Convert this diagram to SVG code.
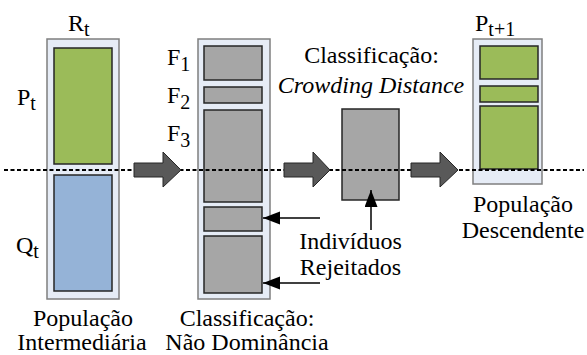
<svg xmlns="http://www.w3.org/2000/svg" width="587" height="355" viewBox="0 0 587 355">
  <style>
    text { font-family: "Liberation Serif", Tinos, "Times New Roman", Times, "Nimbus Roman", "Nimbus Roman No9 L", "Noto Serif", "DejaVu Serif", FreeSerif, serif; font-size: 24px; fill: #000; }
    .sub { font-size: 20px; }
    .it { font-style: italic; }
    .outer { fill: #E6ECF6; stroke: #7F7F7F; stroke-width: 1.5; }
    .inner { stroke: #262626; stroke-width: 1.5; }
    .green { fill: #9BBB59; }
    .blue { fill: #95B3D7; }
    .gray { fill: #A6A6A6; }
    .flow { fill: #595959; stroke: #262626; stroke-width: 1; }
    .dash { stroke: #000; stroke-width: 2; stroke-dasharray: 4 2.5; fill: none; }
    .pointer { stroke: #000; stroke-width: 1.5; fill: none; }
  </style>
  <defs>
    <marker id="head" markerUnits="userSpaceOnUse" markerWidth="18" markerHeight="14" refX="17" refY="6.5" orient="auto">
      <path d="M0,0 L17,6.5 L0,13 Z" fill="#000"/>
    </marker>
  </defs>

  <rect width="587" height="355" fill="#fff"/>

  <!-- R_t : intermediate population -->
  <g id="rt">
    <rect class="outer" x="47" y="39" width="72" height="260"/>
    <rect class="inner green" x="54" y="48" width="58" height="116"/>
    <rect class="inner blue" x="54" y="175" width="58" height="116"/>
    <text x="68" y="31">R<tspan class="sub" dy="5">t</tspan></text>
    <text x="17" y="105">P<tspan class="sub" dy="5">t</tspan></text>
    <text x="16" y="253">Q<tspan class="sub" dy="5">t</tspan></text>
    <text x="83" y="326" text-anchor="middle">População</text>
    <text x="82" y="350" text-anchor="middle">Intermediária</text>
  </g>

  <!-- Non-dominance fronts -->
  <g id="fronts">
    <rect class="outer" x="198" y="39" width="72" height="260"/>
    <rect class="inner gray" x="204" y="46" width="58" height="34"/>
    <rect class="inner gray" x="204" y="87" width="58" height="16"/>
    <rect class="inner gray" x="204" y="110" width="58" height="92"/>
    <rect class="inner gray" x="204" y="207" width="58" height="24"/>
    <rect class="inner gray" x="204" y="236" width="58" height="57"/>
    <text x="167" y="65">F<tspan class="sub" dy="6">1</tspan></text>
    <text x="167" y="103">F<tspan class="sub" dy="6">2</tspan></text>
    <text x="167" y="141">F<tspan class="sub" dy="6">3</tspan></text>
    <text x="247" y="326" text-anchor="middle">Classificação:</text>
    <text x="247" y="350" text-anchor="middle">Não Dominância</text>
  </g>

  <!-- Crowding distance sorting -->
  <g id="crowding">
    <rect class="inner gray" x="342" y="109" width="57" height="91"/>
    <text x="371.5" y="63" text-anchor="middle">Classificação:</text>
    <text class="it" x="371" y="93" text-anchor="middle">Crowding Distance</text>
  </g>

  <!-- Rejected individuals label -->
  <g id="rejected">
    <text x="350.5" y="249" text-anchor="middle">Indivíduos</text>
    <text x="350.5" y="275" text-anchor="middle">Rejeitados</text>
  </g>

  <!-- P_{t+1} : offspring population -->
  <g id="ptnext">
    <rect class="outer" x="473" y="39" width="69" height="145"/>
    <rect class="inner green" x="480" y="46" width="58" height="33"/>
    <rect class="inner green" x="480" y="86" width="58" height="16"/>
    <rect class="inner green" x="480" y="106" width="58" height="63"/>
    <text x="475" y="31">P<tspan class="sub" dy="5">t+1</tspan></text>
    <text x="523" y="212" text-anchor="middle">População</text>
    <text x="523" y="238" text-anchor="middle">Descendente</text>
  </g>

  <!-- Connectors -->
  <g id="connectors">
    <line class="dash" x1="4" y1="170" x2="584" y2="170"/>
    <polygon class="flow" points="134,163 163,163 163,152 181,170 163,187 163,177 134,177"/>
    <polygon class="flow" points="284,163 313,163 313,152 330,170 313,187 313,177 284,177"/>
    <polygon class="flow" points="411,163 440,163 440,152 458,170 440,187 440,177 411,177"/>
    <line class="pointer" x1="320" y1="218" x2="263" y2="218" marker-end="url(#head)"/>
    <line class="pointer" x1="320" y1="283" x2="263" y2="283" marker-end="url(#head)"/>
    <line class="pointer" x1="371" y1="230" x2="371" y2="190" marker-end="url(#head)"/>
  </g>
</svg>
